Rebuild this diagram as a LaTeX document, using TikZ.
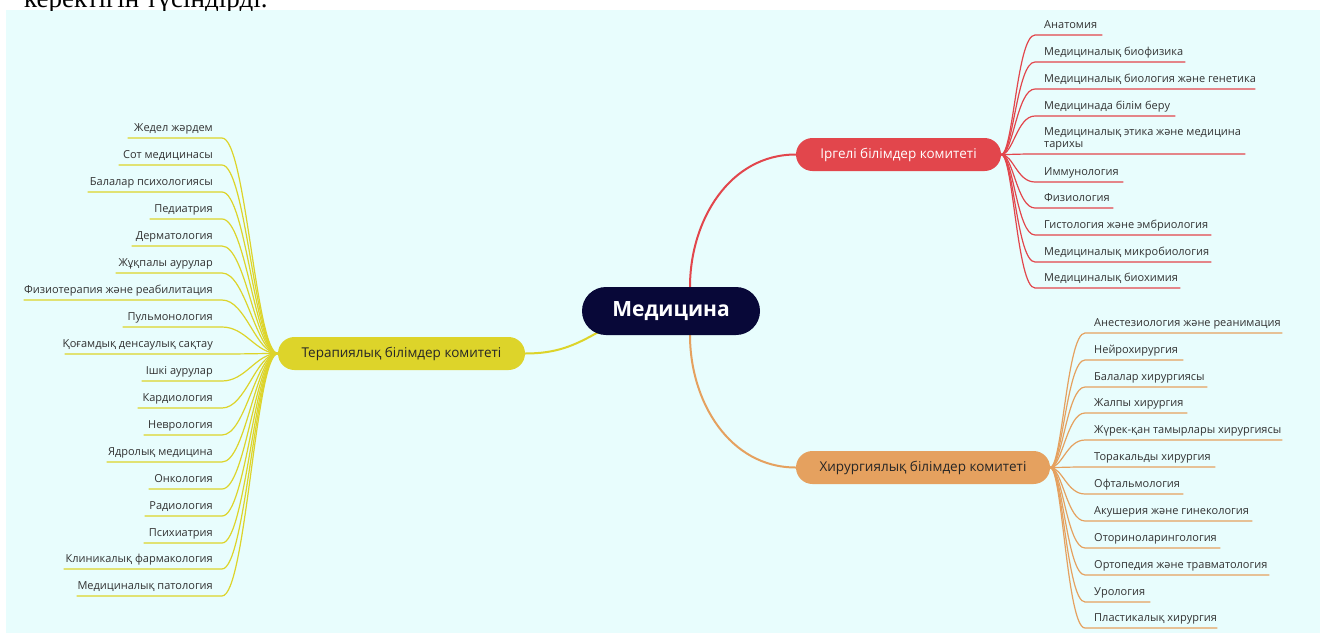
\documentclass[tikz,border=0pt]{standalone}
\usepackage{fontspec}
\setmainfont{Open Sans}
\newfontfamily\serifcut{Liberation Serif}
\definecolor{bgc}{RGB}{232,253,253}
\definecolor{redc}{RGB}{226,70,76}
\definecolor{orac}{RGB}{229,161,95}
\definecolor{yelc}{RGB}{221,212,42}
\definecolor{navyc}{RGB}{8,8,56}
\definecolor{txtc}{RGB}{50,50,50}
\newcommand\lfR[2]{\hbox to #1pt{\hskip9pt #2\hss}}
\newcommand\lfL[2]{\hbox to #1pt{\hss #2\hskip9pt}}
\pgfdeclarelayer{bg}
\pgfdeclarelayer{lines}
\pgfsetlayers{bg,lines,main}
\tikzset{
  leaf/.style={inner sep=0pt, text height=8pt, text depth=6.5pt, font=\fontsize{11}{13}\selectfont, text=txtc},
  leafr/.style={leaf, anchor=south west},
  leafl/.style={leaf, anchor=south east},
  committee/.style={rounded corners=16.5pt, minimum height=33pt, inner sep=0pt, font=\fontsize{13.5}{15}\selectfont},
  twig/.style={line width=1.2pt},
  trunk/.style={line width=2pt},
}
\begin{document}
\begin{tikzpicture}[x=1pt,y=1pt]
\useasboundingbox (0,0) rectangle (1324,-635);
\begin{pgfonlayer}{bg}
  \fill[bgc] (6,-10) rectangle (1320,-633);
\end{pgfonlayer}
\begin{scope}
  \clip (0,0) rectangle (1324,-10);
  \node[anchor=base west, inner sep=0pt, font=\serifcut\fontsize{27}{30}\selectfont] (cut) at (24,-7) {керектігін түсіндірді.};
\end{scope}

% main nodes
\node[fill=navyc, rounded corners=24pt, minimum width=178pt, minimum height=48pt, inner sep=0pt, text=white, font=\bfseries\fontsize{21}{24}\selectfont] (med) at (671,-311) {Медицина};
\node[committee, fill=redc, text=white, minimum width=205pt] (red) at (898.5,-154.5) {Іргелі білімдер комитеті};
\node[committee, fill=orac, text=black!85, minimum width=254pt] (ora) at (923,-467.5) {Хирургиялық білімдер комитеті};
\node[committee, fill=yelc, text=black!85, minimum width=247pt] (yel) at (401.5,-353.5) {Терапиялық білімдер комитеті};

\begin{pgfonlayer}{lines}
  \draw[trunk, redc] ([xshift=19pt]med.north) to[out=90,in=180] (red.west);
  \draw[trunk, orac] ([xshift=19pt]med.south) to[out=-90,in=180] (ora.west);
  \draw[trunk, yelc] ([xshift=18pt,yshift=4pt]med.south west) to[out=210,in=0] (yel.east);
\end{pgfonlayer}

% red leaves
\foreach \i/\y/\L/\t in {1/35/67/Анатомия, 2/62/150/Медициналық биофизика, 3/89/220/Медициналық биология және генетика, 4/116/140/Медицинада білім беру, 6/182/88/Иммунология, 7/208/78/Физиология, 8/235/176/Гистология және эмбриология, 9/262/176/Медициналық микробиология, 10/288/145/Медициналық биохимия}{
  \node[leafr] (r\i) at (1035,-\y) {\lfR{\L}{\t}};
  \begin{pgfonlayer}{lines}
    \draw[twig, redc] (red.east) to[out=0,in=180,out distance=12pt,in distance=18pt] (r\i.south west) -- (r\i.south east);
  \end{pgfonlayer}
}
\node[leafr] (r5) at (1035,-154) {\lfR{210}{\vbox{\baselineskip=12pt\hbox{Медициналық этика және медицина}\hbox{тарихы}}}};
\begin{pgfonlayer}{lines}
  \draw[twig, redc] (red.east) to[out=0,in=180,out distance=12pt,in distance=18pt] (r5.south west) -- (r5.south east);
\end{pgfonlayer}

% orange leaves
\foreach \i/\y/\L/\t in {1/333/197/Анестезиология және реанимация, 2/360/98/Нейрохирургия, 3/387/122/Балалар хирургиясы, 4/413/102/Жалпы хирургия, 5/440/197/Жүрек-қан тамырлары хирургиясы, 6/467/130/Торакальды хирургия, 7/494/98/Офтальмология, 8/521/167/Акушерия және гинекология, 9/548/135/Оториноларингология, 10/575/184/Ортопедия және травматология, 11/602/65/Урология, 12/628/132/Пластикалық хирургия}{
  \node[leafr] (o\i) at (1085,-\y) {\lfR{\L}{\t}};
  \begin{pgfonlayer}{lines}
    \draw[twig, orac] (ora.east) to[out=0,in=180,out distance=12pt,in distance=18pt] (o\i.south west) -- (o\i.south east);
  \end{pgfonlayer}
}

% yellow leaves
\foreach \i/\y/\L/\t in {1/138/94/Жедел жәрдем, 2/165/103/Сот медицинасы, 3/192/134/Балалар психологиясы, 4/219/72/Педиатрия, 5/246/90/Дерматология, 6/273/106/Жұқпалы аурулар, 7/300/198/Физиотерапия және реабилитация, 8/327/99/Пульмонология, 9/354/157/Қоғамдық денсаулық сақтау, 10/381/80/Ішкі аурулар, 11/408/84/Кардиология, 12/435/78/Неврология, 13/462/115/Ядролық медицина, 14/489/73/Онкология, 15/516/77/Радиология, 16/543/78/Психиатрия, 17/569/158/Клиникалық фармакология, 18/596/145/Медициналық патология}{
  \node[leafl] (y\i) at (222,-\y) {\lfL{\L}{\t}};
  \begin{pgfonlayer}{lines}
    \draw[twig, yelc] (y\i.south west) -- (y\i.south east) to[out=0,in=180,out distance=24pt,in distance=22pt] (yel.west);
  \end{pgfonlayer}
}
\end{tikzpicture}
\end{document}
